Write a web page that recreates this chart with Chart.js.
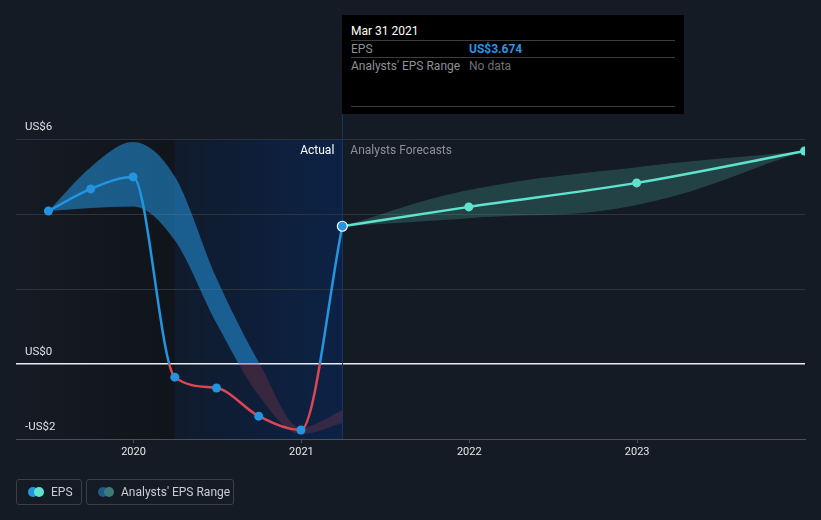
<!DOCTYPE html>
<html>
<head>
<meta charset="utf-8">
<script src="https://cdn.jsdelivr.net/npm/chart.js@4.4.1/dist/chart.umd.min.js"></script>
<style>
    html, body { margin: 0; padding: 0; background: #151b24; }
    body { width: 821px; height: 520px; position: relative; overflow: hidden; font-family: Roboto, "Noto Sans", sans-serif; }
    #chart { position: absolute; left: 0; top: 0; }
    .tip { position: absolute; left: 342px; top: 15px; width: 342px; height: 99px; background: #000; }
    .tip .row { position: absolute; left: 9px; width: 324px; font-size: 12px; line-height: 16px; }
    .tip .sep { position: absolute; left: 9px; width: 324px; height: 1px; background: #3a3d42; }
    .tip .val { position: absolute; left: 118px; top: 0; }
    .legend-btn { position: absolute; top: 479px; height: 26px; border: 1px solid #3a4049; border-radius: 3px; box-sizing: border-box; color: #c9cdd3; font-size: 12px; line-height: 24px; }
    .dot { position: absolute; top: 7px; width: 10px; height: 10px; border-radius: 50%; }
</style>
</head>
<body>
<canvas id="chart" width="821" height="520"></canvas>

<div class="tip">
    <div class="row" style="top: 8px; color: #fff;">Mar 31 2021</div>
    <div class="sep" style="top: 25px;"></div>
    <div class="row" style="top: 26px; color: #8c9097;">EPS<span class="val" style="color: #2a95e0; font-weight: bold;">US$3.674</span></div>
    <div class="sep" style="top: 42px;"></div>
    <div class="row" style="top: 43px; color: #8c9097;">Analysts' EPS Range<span class="val" style="color: #6c7077;">No data</span></div>
    <div class="sep" style="top: 91px;"></div>
</div>

<div class="legend-btn" style="left: 16px; width: 66px;">
    <span class="dot" style="left: 11px; background: #2394df;"></span>
    <span class="dot" style="left: 17px; background: #5fe3cf;"></span>
    <span style="position: absolute; left: 34px;">EPS</span>
</div>
<div class="legend-btn" style="left: 86px; width: 148px;">
    <span class="dot" style="left: 11px; background: #1f5a86;"></span>
    <span class="dot" style="left: 17px; background: #3b7a76;"></span>
    <span style="position: absolute; left: 34px;">Analysts' EPS Range</span>
</div>

<script>
// --- DATA ---
const epsDates = ['2019-06-30', '2019-09-30', '2019-12-31', '2020-03-31', '2020-06-30', '2020-09-30', '2020-12-31', '2021-03-31'];
const epsValues = [4.08, 4.67, 4.99, -0.35, -0.64, -1.39, -1.76, 3.674];
const pastRangeHigh = [4.08, 5.25, 5.92, 5.0, 2.29, 0.05, -1.7, -1.23];
const pastRangeLow = [4.08, 4.16, 4.2, 3.3, 1.09, -0.83, -1.87, -1.57];

const forecastDates = ['2021-03-31', '2021-12-31', '2022-12-31', '2023-12-31'];
const forecastValues = [3.674, 4.19, 4.83, 5.68];
const forecastHigh = [3.674, 4.64, 5.25, 5.68];
const forecastLow = [3.674, 3.89, 4.24, 5.68];

const xTickYears = [2020, 2021, 2022, 2023];
const yTickValues = [-2, 0, 2, 4, 6];
const yTickLabels = { '6': 'US$6', '0': 'US$0', '-2': '-US$2' };

const actualStart = '2020-03-31';
const actualEnd = '2021-03-31';

const BLUE = '#2394df';
const RED = '#df4651';
const TEAL = '#5fe3cf';

// date string -> decimal year
function toYear(s) {
    const d = new Date(s + 'T00:00:00Z');
    const y = d.getUTCFullYear();
    const start = Date.UTC(y, 0, 1);
    const end = Date.UTC(y + 1, 0, 1);
    return y + (d - start) / (end - start);
}

function pts(dates, values) {
    return dates.map((d, i) => ({ x: toYear(d), y: values[i] }));
}

// color split at zero: one color above, another below
function splitAtZero(chart, top, bottom) {
    const area = chart.chartArea;
    if (!area) return top;
    const z = chart.scales.y.getPixelForValue(0);
    const t = Math.min(1, Math.max(0, (z - area.top) / (area.bottom - area.top)));
    const g = chart.ctx.createLinearGradient(0, area.top, 0, area.bottom);
    g.addColorStop(0, top);
    g.addColorStop(t, top);
    g.addColorStop(t, bottom);
    g.addColorStop(1, bottom);
    return g;
}

// backgrounds, crosshair, labels
const decorPlugin = {
    id: 'decor',
    beforeDraw(chart) {
        const { ctx, chartArea, scales } = chart;
        const x = scales.x;
        ctx.save();
        ctx.fillStyle = '#151b24';
        ctx.fillRect(0, 0, chart.width, chart.height);

        const a0 = x.getPixelForValue(toYear(actualStart));
        const a1 = x.getPixelForValue(toYear(actualEnd));

        // darker past area
        const dg = ctx.createLinearGradient(chartArea.left, 0, a0, 0);
        dg.addColorStop(0, 'rgba(0,0,0,0)');
        dg.addColorStop(1, 'rgba(0,0,0,0.25)');
        ctx.fillStyle = dg;
        ctx.fillRect(chartArea.left, chartArea.top, a0 - chartArea.left, chartArea.bottom - chartArea.top);

        // actual (last year) highlight
        const bg = ctx.createLinearGradient(a0, 0, a1, 0);
        bg.addColorStop(0, '#101b2c');
        bg.addColorStop(1, '#0c2246');
        ctx.fillStyle = bg;
        ctx.fillRect(a0, chartArea.top, a1 - a0, chartArea.bottom - chartArea.top);
        ctx.restore();
    },
    beforeDatasetsDraw(chart) {
        const { ctx, chartArea, scales } = chart;
        const a1 = Math.round(scales.x.getPixelForValue(toYear(actualEnd))) + 0.5;
        ctx.save();
        ctx.strokeStyle = '#173563';
        ctx.lineWidth = 1;
        ctx.beginPath();
        ctx.moveTo(a1, 15);
        ctx.lineTo(a1, chartArea.bottom);
        ctx.stroke();
        ctx.restore();
    },
    afterDraw(chart) {
        const { ctx, chartArea, scales } = chart;
        const a1 = scales.x.getPixelForValue(toYear(actualEnd));
        ctx.save();
        ctx.font = '12px Roboto, sans-serif';
        ctx.textBaseline = 'middle';
        ctx.textAlign = 'right';
        ctx.fillStyle = '#ffffff';
        ctx.fillText('Actual', a1 - 8, chartArea.top + 12);
        ctx.textAlign = 'left';
        ctx.fillStyle = '#8b9099';
        ctx.fillText('Analysts Forecasts', a1 + 8, chartArea.top + 12);

        // y labels sit above their gridlines
        ctx.fillStyle = '#dde0e4';
        ctx.font = '11.5px Roboto, sans-serif';
        Object.keys(yTickLabels).forEach(k => {
            const y = scales.y.getPixelForValue(Number(k));
            ctx.fillText(yTickLabels[k], chartArea.left + 9, y - 12);
        });
        ctx.restore();
    }
};

const ctx = document.getElementById('chart').getContext('2d');

new Chart(ctx, {
    type: 'line',
    data: {
        datasets: [
            {
                label: 'EPS',
                data: pts(epsDates, epsValues),
                borderColor: c => splitAtZero(c.chart, BLUE, RED),
                borderWidth: 2.5,
                cubicInterpolationMode: 'monotone',
                pointBackgroundColor: BLUE,
                pointBorderColor: epsValues.map((v, i) => i === epsValues.length - 1 ? '#ffffff' : BLUE),
                pointBorderWidth: epsValues.map((v, i) => i === epsValues.length - 1 ? 1.2 : 0),
                pointRadius: epsValues.map((v, i) => i === epsValues.length - 1 ? 5 : 4.5),
                fill: false,
                clip: 0,
                order: 1
            },
            {
                label: 'EPS forecast',
                data: pts(forecastDates, forecastValues),
                borderColor: TEAL,
                borderWidth: 2.5,
                cubicInterpolationMode: 'monotone',
                pointBackgroundColor: TEAL,
                pointBorderWidth: 0,
                pointRadius: forecastValues.map((v, i) => i === 0 ? 0 : 4.5),
                fill: false,
                clip: 0,
                order: 2
            },
            {
                label: 'Past range high',
                data: pts(epsDates, pastRangeHigh),
                borderWidth: 0,
                pointRadius: 0,
                cubicInterpolationMode: 'monotone',
                backgroundColor: c => splitAtZero(c.chart, 'rgba(35,148,223,0.55)', 'rgba(223,70,81,0.2)'),
                fill: '+1',
                clip: 0,
                order: 5
            },
            {
                label: 'Past range low',
                data: pts(epsDates, pastRangeLow),
                borderWidth: 0,
                pointRadius: 0,
                cubicInterpolationMode: 'monotone',
                fill: false,
                clip: 0,
                order: 6
            },
            {
                label: 'Forecast high',
                data: pts(forecastDates, forecastHigh),
                borderWidth: 0,
                pointRadius: 0,
                tension: 0.4,
                backgroundColor: 'rgba(95,227,207,0.2)',
                fill: '+1',
                clip: 0,
                order: 7
            },
            {
                label: 'Forecast low',
                data: pts(forecastDates, forecastLow),
                borderWidth: 0,
                pointRadius: 0,
                tension: 0.4,
                fill: false,
                clip: 0,
                order: 8
            }
        ]
    },
    options: {
        responsive: false,
        animation: false,
        events: [],
        layout: { padding: { top: 139, left: 16, right: 16, bottom: 51 } },
        plugins: {
            legend: { display: false },
            tooltip: { enabled: false }
        },
        scales: {
            x: {
                type: 'linear',
                min: 2019.3,
                max: 2024.0,
                afterBuildTicks: s => { s.ticks = xTickYears.map(v => ({ value: v })); },
                afterFit: s => { s.height = 30; },
                ticks: {
                    color: '#e4e6e9',
                    font: { family: 'Roboto', size: 11 },
                    padding: 3,
                    callback: v => String(v)
                },
                grid: { display: true, drawOnChartArea: false, drawTicks: true, tickLength: 4, color: '#4b5059' },
                border: { display: true, color: '#4b5059', width: 1 }
            },
            y: {
                min: -2,
                max: 6,
                afterBuildTicks: s => { s.ticks = yTickValues.map(v => ({ value: v })); },
                afterFit: s => { s.width = 0; },
                ticks: { display: false },
                grid: {
                    drawTicks: false,
                    color: c => c.tick.value === 0 ? '#e9ebee' : (c.tick.value === -2 ? '#4b5059' : '#2d333d'),
                    lineWidth: c => c.tick.value === 0 ? 1.5 : 1
                },
                border: { display: false }
            }
        }
    },
    plugins: [decorPlugin]
});
</script>
</body>
</html>
